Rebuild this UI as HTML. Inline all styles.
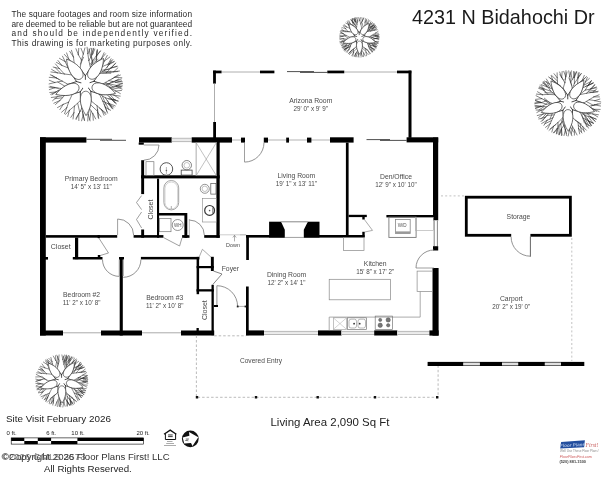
<!DOCTYPE html>
<html><head><meta charset="utf-8"><style>
html,body{margin:0;padding:0;background:#fff;}
body{width:611px;height:480px;overflow:hidden;}
svg{display:block;font-family:"Liberation Sans",sans-serif;will-change:transform;}
</style></head><body>
<svg width="611" height="480" viewBox="0 0 611 480">
<rect width="611" height="480" fill="#fff"/>
<path d="M85.50,84.20L85.36,75.71M85.36,75.71L80.10,68.26M85.36,75.71L90.54,68.04M85.50,84.20L93.90,81.29M93.90,81.29L99.23,73.60M93.90,81.29L102.73,84.04M85.50,84.20L90.89,91.31M90.89,91.31L99.34,94.04M90.89,91.31L90.99,100.84M85.50,84.20L80.29,91.84M80.29,91.84L80.47,100.48M80.29,91.84L72.33,94.23M85.50,84.20L76.55,81.54M76.55,81.54L68.10,84.37M76.55,81.54L72.00,74.91" stroke="#333" stroke-width="0.90" fill="none" stroke-linecap="round"/>
<path d="M80.10,68.26L74.27,63.66M74.27,63.66L68.86,59.26M68.86,59.26L64.38,54.42M68.86,59.26L66.62,52.94M74.27,63.66L73.41,56.94M73.41,56.94L69.63,51.26M73.41,56.94L71.47,50.29M80.10,68.26L81.46,60.10M80.47,64.19L83.52,57.28M81.46,60.10L78.38,54.75M78.38,54.75L75.97,48.72M78.38,54.75L78.75,48.39M81.46,60.10L83.31,54.02M83.31,54.02L80.98,48.32M83.31,54.02L84.92,47.93M90.54,68.04L88.84,60.55M89.98,64.30L96.25,58.36M88.84,60.55L87.85,53.68M87.85,53.68L87.08,47.24M87.85,53.68L90.18,48.28M88.84,60.55L92.67,54.01M90.60,57.22L89.04,49.05M92.67,54.01L93.14,48.34M92.67,54.01L94.84,49.10M90.54,68.04L96.26,62.72M93.16,65.21L91.26,57.28M96.26,62.72L96.53,56.08M96.54,59.43L96.97,51.01M96.53,56.08L97.47,50.12M96.53,56.08L100.28,51.25M96.26,62.72L101.39,58.65M101.39,58.65L104.09,52.74M101.39,58.65L105.48,53.82M90.54,68.04L92.35,60.99M91.47,64.53L98.01,59.42M92.35,60.99L91.20,54.92M91.20,54.92L91.59,48.35M91.20,54.92L93.85,48.25M92.35,60.99L96.34,55.92M96.34,55.92L97.30,49.53M96.34,55.92L100.50,50.76M99.23,73.60L102.06,66.71M100.87,70.31L109.13,69.31M102.06,66.71L104.21,61.23M104.21,61.23L107.30,55.39M104.21,61.23L109.84,57.00M102.06,66.71L108.01,64.18M108.01,64.18L111.10,58.75M108.01,64.18L114.25,61.39M99.23,73.60L106.26,72.81M102.66,72.97L110.77,73.31M106.26,72.81L110.63,68.05M110.63,68.05L115.45,63.65M110.63,68.05L116.89,66.22M106.26,72.81L113.88,71.63M110.02,72.07L117.87,71.54M113.88,71.63L117.89,67.83M113.88,71.63L119.51,71.02M99.23,73.60L104.45,70.37M101.82,71.95L110.94,71.25M104.45,70.37L109.20,64.53M106.91,67.54L111.21,60.35M109.20,64.53L112.88,59.47M109.20,64.53L114.04,61.79M104.45,70.37L111.20,68.00M111.20,68.00L115.63,62.98M111.20,68.00L117.18,66.41M102.73,84.04L108.95,80.51M105.92,82.51L112.93,86.68M108.95,80.51L114.72,77.29M111.88,79.02L118.26,74.76M114.72,77.29L120.40,75.04M114.72,77.29L121.83,77.78M108.95,80.51L115.69,82.33M115.69,82.33L121.62,80.82M115.69,82.33L122.34,83.61M102.73,84.04L109.34,87.57M106.11,85.56L112.79,81.27M109.34,87.57L116.27,86.62M112.81,87.20L119.80,84.99M116.27,86.62L122.37,85.86M116.27,86.62L122.11,89.08M109.34,87.57L115.67,91.00M112.55,89.16L120.79,87.55M115.67,91.00L121.50,90.47M115.67,91.00L120.35,93.59M102.73,84.04L108.88,83.72M105.81,83.90L112.04,88.43M108.88,83.72L116.10,80.68M112.53,82.37L118.76,79.04M116.10,80.68L121.36,78.99M116.10,80.68L122.35,81.85M108.88,83.72L116.29,85.46M116.29,85.46L122.37,83.64M116.29,85.46L121.73,86.84M99.34,94.04L106.68,94.37M102.93,94.48L112.35,94.31M106.68,94.37L113.82,95.14M110.22,94.89L114.88,100.04M113.82,95.14L120.18,96.14M113.82,95.14L119.06,98.32M106.68,94.37L111.71,98.97M109.26,96.58L114.75,102.81M111.71,98.97L118.23,101.04M111.71,98.97L116.25,103.13M99.34,94.04L102.82,101.21M102.82,101.21L107.97,103.57M105.35,102.46L108.88,109.78M107.97,103.57L113.90,107.07M107.97,103.57L112.39,108.88M102.82,101.21L105.29,107.27M104.17,104.17L106.84,111.39M105.29,107.27L110.59,110.29M105.29,107.27L107.59,113.10M99.34,94.04L105.43,97.82M102.37,95.96L105.65,104.19M105.43,97.82L111.90,99.64M108.62,98.84L115.58,99.79M111.90,99.64L117.89,101.06M111.90,99.64L116.17,103.87M105.43,97.82L109.09,103.43M107.36,100.53L111.92,107.75M109.09,103.43L115.27,105.92M109.09,103.43L112.96,108.78M90.99,100.84L97.06,105.79M97.06,105.79L101.70,109.87M99.30,107.90L105.87,113.12M101.70,109.87L105.86,114.60M101.70,109.87L104.05,115.33M97.06,105.79L97.83,112.72M97.58,109.22L98.17,117.50M97.83,112.72L101.12,116.98M97.83,112.72L98.72,118.70M90.99,100.84L89.58,108.60M90.57,104.71L97.39,111.18M89.58,108.60L92.74,113.53M91.06,111.11L89.70,119.77M92.74,113.53L95.70,118.95M92.74,113.53L93.32,120.26M89.58,108.60L88.16,114.42M88.16,114.42L90.11,120.87M88.16,114.42L87.72,121.00M80.47,100.48L81.84,108.03M81.84,108.03L83.13,114.97M82.36,111.51L84.49,120.15M83.13,114.97L84.45,120.54M83.13,114.97L81.58,120.81M81.84,108.03L78.81,113.90M80.43,111.00L75.92,118.37M78.81,113.90L78.85,120.59M78.81,113.90L76.06,119.59M80.47,100.48L74.43,106.11M77.72,103.48L79.61,111.73M74.43,106.11L73.88,112.80M73.88,112.80L73.01,118.99M73.88,112.80L70.81,117.38M74.43,106.11L69.41,110.30M69.41,110.30L67.72,116.49M69.41,110.30L65.51,114.44M72.33,94.23L68.63,102.16M68.63,102.16L66.76,107.71M66.76,107.71L64.53,113.65M66.76,107.71L61.60,112.24M68.63,102.16L63.16,104.41M63.16,104.41L59.88,109.61M63.16,104.41L57.50,107.58M72.33,94.23L64.67,95.34M64.67,95.34L60.06,100.43M62.28,97.78L54.96,98.69M60.06,100.43L55.53,104.46M60.06,100.43L53.87,103.24M64.67,95.34L57.16,96.75M57.16,96.75L52.61,100.66M57.16,96.75L51.30,97.51M68.10,84.37L61.79,88.52M64.84,86.16L57.76,82.03M61.79,88.52L55.90,91.96M58.79,90.12L52.04,94.72M55.90,91.96L50.70,94.32M55.90,91.96L49.78,92.54M61.79,88.52L54.72,87.73M58.26,88.24L50.13,86.35M54.72,87.73L49.32,89.63M54.72,87.73L49.12,87.13M68.10,84.37L62.14,81.09M62.14,81.09L54.83,82.50M54.83,82.50L49.09,83.94M54.83,82.50L49.28,80.25M62.14,81.09L56.50,77.98M59.28,79.65L52.03,75.36M56.50,77.98L49.26,77.36M56.50,77.98L50.26,74.74M72.00,74.91L64.30,73.99M64.30,73.99L57.29,72.79M60.82,73.28L54.99,67.41M57.29,72.79L50.91,71.95M57.29,72.79L51.60,69.40M64.30,73.99L59.34,68.53M59.34,68.53L53.19,67.05M59.34,68.53L55.44,63.95M72.00,74.91L68.08,67.90M68.08,67.90L61.80,65.39M61.80,65.39L56.43,62.34M61.80,65.39L57.94,60.48M68.08,67.90L65.18,61.61M65.18,61.61L59.46,58.35M65.18,61.61L62.49,56.19" stroke="#333" stroke-width="0.60" fill="none" stroke-linecap="round"/>
<path d="M0,0 C0,5.98 10.99,8.49 24.42,0 C10.99,-8.49 0,-5.98 0,0 Z" transform="translate(81.27 78.59) rotate(-127.0)" fill="#fff" stroke="#333" stroke-width="0.66"/>
<path d="M0,0 C0,5.98 10.99,8.49 24.42,0 C10.99,-8.49 0,-5.98 0,0 Z" transform="translate(89.53 78.44) rotate(-55.0)" fill="#fff" stroke="#333" stroke-width="0.66"/>
<path d="M0,0 C0,5.98 10.99,8.49 24.42,0 C10.99,-8.49 0,-5.98 0,0 Z" transform="translate(92.22 86.26) rotate(17.0)" fill="#fff" stroke="#333" stroke-width="0.66"/>
<path d="M0,0 C0,5.98 10.99,8.49 24.42,0 C10.99,-8.49 0,-5.98 0,0 Z" transform="translate(85.62 91.23) rotate(89.0)" fill="#fff" stroke="#333" stroke-width="0.66"/>
<path d="M0,0 C0,5.98 10.99,8.49 24.42,0 C10.99,-8.49 0,-5.98 0,0 Z" transform="translate(78.85 86.49) rotate(161.0)" fill="#fff" stroke="#333" stroke-width="0.66"/>
<circle cx="85.50" cy="84.20" r="4.44" fill="#fff"/>
<path d="M567.80,103.30L567.73,95.22M567.73,95.22L563.08,88.46M567.73,95.22L572.35,88.57M567.80,103.30L575.90,100.53M575.90,100.53L579.68,94.65M575.90,100.53L583.56,103.05M567.80,103.30L572.48,109.71M572.48,109.71L579.92,111.98M572.48,109.71L572.57,117.66M567.80,103.30L562.83,110.29M562.83,110.29L563.27,117.16M562.83,110.29L555.60,112.17M567.80,103.30L560.52,101.14M560.52,101.14L553.07,103.78M560.52,101.14L555.05,94.72" stroke="#333" stroke-width="0.90" fill="none" stroke-linecap="round"/>
<path d="M563.08,88.46L557.61,83.79M560.58,85.95L553.69,81.15M557.61,83.79L552.84,80.12M555.32,81.87L550.01,78.04M552.84,80.12L548.55,76.93M552.84,80.12L551.14,75.56M557.61,83.79L557.22,77.80M557.29,80.83L551.80,75.59M557.22,77.80L554.01,73.67M557.22,77.80L557.13,72.83M563.08,88.46L564.88,82.71M564.88,82.71L561.70,77.39M563.41,80.00L559.80,74.69M561.70,77.39L559.64,72.02M561.70,77.39L562.17,71.46M564.88,82.71L565.67,76.48M565.18,79.59L567.06,71.99M565.67,76.48L563.74,71.33M565.67,76.48L565.96,70.68M572.35,88.57L570.70,82.07M571.78,85.32L568.94,77.90M570.70,82.07L569.74,76.63M569.74,76.63L568.75,70.84M569.74,76.63L571.38,70.87M570.70,82.07L573.84,77.09M572.15,79.53L570.75,72.27M573.84,77.09L573.50,71.53M573.84,77.09L576.41,71.60M572.35,88.57L577.53,84.16M574.72,86.21L581.01,82.12M577.53,84.16L577.90,77.68M577.90,77.68L578.25,72.79M577.90,77.68L581.43,73.60M577.53,84.16L582.14,80.60M579.74,82.30L585.04,78.28M582.14,80.60L584.30,75.39M582.14,80.60L586.57,76.53M572.35,88.57L574.49,83.19M574.49,83.19L574.26,77.59M574.26,77.59L574.65,71.84M574.26,77.59L576.69,72.08M574.49,83.19L578.10,78.06M578.10,78.06L579.25,72.67M578.10,78.06L580.95,73.63M579.68,94.65L582.59,88.00M581.37,91.49L582.85,84.76M582.59,88.00L585.39,81.92M584.10,85.03L590.75,81.67M585.39,81.92L587.34,77.45M585.39,81.92L589.38,78.44M582.59,88.00L588.42,85.12M585.43,86.46L592.65,83.37M588.42,85.12L591.16,80.96M588.42,85.12L593.13,82.78M579.68,94.65L586.75,93.24M586.75,93.24L590.52,88.95M588.70,91.18L595.29,90.38M590.52,88.95L594.70,84.43M590.52,88.95L596.50,87.03M586.75,93.24L593.12,92.15M589.90,92.59L597.56,91.93M593.12,92.15L596.98,88.71M593.12,92.15L598.24,91.28M579.68,94.65L585.24,90.11M585.24,90.11L587.97,85.57M587.97,85.57L591.47,80.51M587.97,85.57L593.60,82.94M585.24,90.11L591.05,88.97M591.05,88.97L594.86,85.12M591.05,88.97L596.15,87.79M583.56,103.05L589.24,99.73M586.47,101.60L593.62,105.43M589.24,99.73L593.82,96.88M593.82,96.88L599.07,94.83M593.82,96.88L599.50,96.92M589.24,99.73L594.89,100.65M594.89,100.65L599.85,99.10M594.89,100.65L600.76,101.96M583.56,103.05L588.56,106.54M586.14,104.57L592.95,109.51M588.56,106.54L594.41,104.90M591.49,105.85L597.99,103.93M594.41,104.90L600.46,103.65M594.41,104.90L600.61,106.02M588.56,106.54L594.05,109.32M591.34,107.83L596.48,111.44M594.05,109.32L600.19,109.43M594.05,109.32L599.15,111.59M579.92,111.98L587.04,112.97M583.39,112.72L586.01,119.15M587.04,112.97L592.77,113.95M592.77,113.95L598.41,114.74M592.77,113.95L597.77,116.90M587.04,112.97L590.48,117.09M590.48,117.09L595.97,119.09M590.48,117.09L595.29,121.40M579.92,111.98L583.15,118.15M581.73,114.92L584.39,122.89M583.15,118.15L588.33,120.69M585.69,119.50L588.84,125.95M588.33,120.69L593.55,123.27M588.33,120.69L591.32,125.64M583.15,118.15L585.85,123.44M584.59,120.74L586.70,126.67M585.85,123.44L590.73,126.16M585.85,123.44L588.46,128.11M579.92,111.98L585.27,115.70M582.59,113.84L590.09,113.97M585.27,115.70L590.85,116.82M588.02,116.37L592.79,122.71M590.85,116.82L596.27,119.14M590.85,116.82L595.01,121.26M585.27,115.70L588.71,121.26M587.10,118.38L590.01,123.98M588.71,121.26L593.49,123.39M588.71,121.26L591.51,125.42M572.57,117.66L578.03,122.29M575.07,120.15L581.43,124.10M578.03,122.29L582.70,126.50M580.27,124.47L581.49,131.92M582.70,126.50L586.36,130.18M582.70,126.50L584.34,131.81M578.03,122.29L578.61,128.62M578.45,125.42L583.87,130.41M578.61,128.62L581.97,133.01M578.61,128.62L579.67,133.88M572.57,117.66L570.99,123.85M572.02,120.76L569.40,128.11M570.99,123.85L574.49,130.08M572.59,127.02L571.28,134.00M574.49,130.08L577.03,134.96M574.49,130.08L574.37,135.16M570.99,123.85L569.58,129.70M570.41,126.78L573.55,132.14M569.58,129.70L571.85,135.77M569.58,129.70L568.14,136.07M563.27,117.16L564.16,125.04M563.43,121.09L557.95,125.74M564.16,125.04L565.37,129.79M564.68,127.42L566.52,133.52M565.37,129.79L566.59,135.49M565.37,129.79L564.02,135.57M564.16,125.04L561.32,128.97M561.32,128.97L561.45,135.58M561.32,128.97L558.78,134.56M563.27,117.16L557.98,122.52M557.98,122.52L557.87,128.29M557.87,128.29L556.94,133.72M557.87,128.29L554.13,132.89M557.98,122.52L553.50,126.36M555.83,124.51L550.26,128.93M553.50,126.36L551.83,132.02M553.50,126.36L549.01,130.41M563.27,117.16L560.81,124.09M562.06,120.63L564.26,127.17M560.81,124.09L561.55,129.84M561.55,129.84L562.09,135.04M561.55,129.84L559.33,134.85M560.81,124.09L557.02,128.66M559.01,126.43L559.08,134.02M557.02,128.66L556.37,133.86M557.02,128.66L553.27,132.79M555.60,112.17L552.81,117.87M554.04,114.89L547.04,115.38M552.81,117.87L550.25,123.64M551.42,120.68L544.89,123.75M550.25,123.64L547.48,129.09M550.25,123.64L545.53,127.34M552.81,117.87L547.10,120.31M547.10,120.31L543.92,125.30M547.10,120.31L541.69,123.47M555.60,112.17L549.21,113.13M552.48,112.85L549.89,119.34M549.21,113.13L545.27,117.16M547.19,115.08L542.43,120.86M545.27,117.16L540.93,121.63M545.27,117.16L538.84,119.00M549.21,113.13L543.19,113.98M546.23,113.67L541.27,119.00M543.19,113.98L538.60,117.53M543.19,113.98L537.26,115.55M553.07,103.78L547.29,106.93M550.11,105.14L543.51,110.19M547.29,106.93L541.39,110.17M541.39,110.17L536.86,112.49M541.39,110.17L536.08,110.00M547.29,106.93L540.60,106.25M543.94,106.70L538.81,110.02M540.60,106.25L535.42,108.00M540.60,106.25L534.93,105.30M553.07,103.78L546.25,100.85M549.60,102.56L544.39,98.23M546.25,100.85L541.19,102.61M541.19,102.61L534.85,103.60M541.19,102.61L535.38,100.62M546.25,100.85L541.80,98.66M541.80,98.66L535.52,99.39M541.80,98.66L536.06,95.74M553.07,103.78L546.34,104.14M549.71,103.95L544.17,100.04M546.34,104.14L541.47,106.44M541.47,106.44L535.51,108.48M541.47,106.44L535.13,106.39M546.34,104.14L540.32,102.27M540.32,102.27L534.91,102.87M540.32,102.27L535.58,100.57M555.05,94.72L547.87,94.38M547.87,94.38L542.60,94.74M542.60,94.74L536.43,94.10M542.60,94.74L537.47,91.72M547.87,94.38L543.74,90.16M545.74,92.36L541.95,87.57M543.74,90.16L538.66,88.37M543.74,90.16L539.53,86.28M555.05,94.72L552.44,89.02M552.44,89.02L546.78,86.76M549.67,87.79L546.40,81.52M546.78,86.76L541.30,84.70M546.78,86.76L543.12,82.11M552.44,89.02L549.41,83.91M549.41,83.91L544.48,81.08M549.41,83.91L546.35,79.00M555.05,94.72L550.76,91.16M552.88,92.97L544.89,92.71M550.76,91.16L544.23,88.98M544.23,88.98L539.21,87.53M544.23,88.98L540.53,84.98M550.76,91.16L546.75,85.36M546.75,85.36L542.54,83.02M546.75,85.36L543.65,81.56" stroke="#333" stroke-width="0.60" fill="none" stroke-linecap="round"/>
<path d="M0,0 C0,5.33 9.80,7.57 21.78,0 C9.80,-7.57 0,-5.33 0,0 Z" transform="translate(564.03 98.29) rotate(-127.0)" fill="#fff" stroke="#333" stroke-width="0.66"/>
<path d="M0,0 C0,5.33 9.80,7.57 21.78,0 C9.80,-7.57 0,-5.33 0,0 Z" transform="translate(571.40 98.16) rotate(-55.0)" fill="#fff" stroke="#333" stroke-width="0.66"/>
<path d="M0,0 C0,5.33 9.80,7.57 21.78,0 C9.80,-7.57 0,-5.33 0,0 Z" transform="translate(573.80 105.13) rotate(17.0)" fill="#fff" stroke="#333" stroke-width="0.66"/>
<path d="M0,0 C0,5.33 9.80,7.57 21.78,0 C9.80,-7.57 0,-5.33 0,0 Z" transform="translate(567.91 109.57) rotate(89.0)" fill="#fff" stroke="#333" stroke-width="0.66"/>
<path d="M0,0 C0,5.33 9.80,7.57 21.78,0 C9.80,-7.57 0,-5.33 0,0 Z" transform="translate(561.87 105.34) rotate(161.0)" fill="#fff" stroke="#333" stroke-width="0.66"/>
<circle cx="567.80" cy="103.30" r="3.96" fill="#fff"/>
<path d="M61.70,380.80L61.52,374.68M61.52,374.68L57.40,369.32M61.52,374.68L65.30,368.84M61.70,380.80L67.72,378.70M67.72,378.70L71.24,373.55M67.72,378.70L73.65,380.43M61.70,380.80L65.52,385.75M65.52,385.75L71.19,387.43M65.52,385.75L65.67,392.18M61.70,380.80L57.96,386.08M57.96,386.08L57.93,392.35M57.96,386.08L52.20,387.83M61.70,380.80L55.66,378.95M55.66,378.95L49.44,381.18M55.66,378.95L52.07,374.24" stroke="#333" stroke-width="0.83" fill="none" stroke-linecap="round"/>
<path d="M57.40,369.32L53.11,366.18M55.41,367.62L56.56,362.37M53.11,366.18L49.24,363.30M51.25,364.67L47.09,362.03M49.24,363.30L45.71,359.96M49.24,363.30L47.13,359.23M53.11,366.18L51.92,361.48M52.45,363.86L48.06,360.26M51.92,361.48L48.84,358.39M51.92,361.48L50.86,357.47M57.40,369.32L58.02,363.77M57.52,366.56L59.41,360.61M58.02,363.77L55.78,360.50M56.96,362.11L57.71,356.39M55.78,360.50L53.33,356.09M55.78,360.50L55.54,355.70M58.02,363.77L58.67,359.50M58.67,359.50L56.76,355.17M58.67,359.50L59.10,354.91M65.30,368.84L63.91,364.25M63.91,364.25L62.84,359.63M63.46,361.94L66.07,356.72M62.84,359.63L61.91,354.93M62.84,359.63L64.40,354.97M63.91,364.25L65.83,360.10M64.80,362.15L63.62,356.40M65.83,360.10L65.89,355.46M65.83,360.10L68.26,355.57M65.30,368.84L69.16,365.04M67.07,366.83L65.66,360.70M69.16,365.04L69.43,360.17M69.43,360.17L69.58,356.06M69.43,360.17L71.92,357.08M69.16,365.04L72.64,362.34M70.83,363.63L74.85,360.51M72.64,362.34L74.36,358.09M72.64,362.34L76.22,359.02M65.30,368.84L67.05,364.81M66.15,366.81L64.47,360.44M67.05,364.81L66.60,360.18M66.93,362.50L70.21,358.50M66.60,360.18L66.44,355.04M66.60,360.18L68.37,355.85M67.05,364.81L70.22,360.95M68.55,362.83L68.26,357.82M70.22,360.95L71.28,356.69M70.22,360.95L73.17,357.17M71.24,373.55L73.85,368.06M72.73,370.94L74.23,364.94M73.85,368.06L74.78,364.32M74.39,366.23L76.05,361.11M74.78,364.32L76.64,359.90M74.78,364.32L78.69,361.26M73.85,368.06L78.17,366.15M75.96,367.03L80.71,365.38M78.17,366.15L80.61,362.53M78.17,366.15L81.53,364.05M71.24,373.55L76.35,372.83M73.73,373.02L76.46,367.14M76.35,372.83L79.67,368.84M79.67,368.84L82.75,365.75M79.67,368.84L84.24,367.35M76.35,372.83L81.24,372.19M78.77,372.42L84.84,371.82M81.24,372.19L85.21,369.15M81.24,372.19L85.71,371.40M71.24,373.55L75.14,370.23M75.14,370.23L77.90,366.11M76.58,368.22L81.57,366.76M77.90,366.11L80.16,362.31M77.90,366.11L81.55,364.04M75.14,370.23L79.03,368.82M77.06,369.47L82.14,368.29M79.03,368.82L82.66,365.53M79.03,368.82L84.13,367.09M73.65,380.43L78.20,377.74M78.20,377.74L82.87,375.10M82.87,375.10L86.56,372.63M82.87,375.10L87.21,375.41M78.20,377.74L83.46,378.70M80.83,378.11L85.74,379.51M83.46,378.70L87.21,377.70M83.46,378.70L87.77,379.30M73.65,380.43L78.94,382.74M76.34,381.39L82.21,378.07M78.94,382.74L82.88,381.80M82.88,381.80L87.43,381.28M82.88,381.80L87.87,383.24M78.94,382.74L82.71,384.89M80.86,383.73L85.52,382.36M82.71,384.89L87.33,385.12M82.71,384.89L86.85,387.09M73.65,380.43L79.10,379.72M76.38,380.12L80.86,376.53M79.10,379.72L83.31,377.61M81.23,378.75L86.67,375.98M83.31,377.61L87.46,375.80M83.31,377.61L87.50,378.12M79.10,379.72L83.69,381.10M83.69,381.10L87.66,380.14M83.69,381.10L87.67,381.76M71.19,387.43L77.27,388.42M74.15,388.14L76.73,393.60M77.27,388.42L82.14,388.56M79.68,388.59L83.22,392.43M82.14,388.56L86.16,388.60M82.14,388.56L85.73,390.58M77.27,388.42L80.79,391.69M79.07,389.99L85.33,390.80M80.79,391.69L84.89,392.77M80.79,391.69L83.75,394.56M71.19,387.43L74.25,393.08M74.25,393.08L78.73,394.78M76.44,394.01L79.32,399.58M78.73,394.78L82.43,396.04M78.73,394.78L81.32,397.75M74.25,393.08L75.95,396.63M75.95,396.63L79.70,399.78M75.95,396.63L77.99,400.73M71.19,387.43L75.99,390.49M75.99,390.49L80.98,391.52M80.98,391.52L84.83,392.46M80.98,391.52L83.99,394.75M75.99,390.49L78.30,394.01M77.20,392.20L82.40,393.42M78.30,394.01L82.80,395.79M78.30,394.01L81.39,397.60M65.67,392.18L69.44,395.80M67.41,394.09L72.85,397.87M69.44,395.80L73.59,399.39M71.42,397.67L75.43,400.49M73.59,399.39L76.74,401.78M73.59,399.39L74.45,403.37M69.44,395.80L70.36,400.92M69.99,398.33L70.50,404.53M70.36,400.92L73.31,404.18M70.36,400.92L70.74,404.84M65.67,392.18L64.97,397.50M64.97,397.50L67.31,401.77M66.07,399.66L69.47,404.75M67.31,401.77L69.69,405.35M67.31,401.77L66.90,405.92M64.97,397.50L63.85,402.17M63.85,402.17L65.11,406.24M63.85,402.17L62.85,407.03M65.67,392.18L67.40,396.65M67.40,396.65L70.61,400.59M68.92,398.67L72.79,402.59M70.61,400.59L72.99,404.02M70.61,400.59L71.92,405.03M67.40,396.65L67.25,401.11M67.25,401.11L69.77,405.50M67.25,401.11L67.39,406.11M57.93,392.35L59.20,397.51M58.36,394.93L60.55,400.07M59.20,397.51L60.31,402.22M59.66,399.87L61.21,404.65M60.31,402.22L60.71,406.83M60.31,402.22L59.38,406.62M59.20,397.51L56.89,402.00M58.13,399.78L59.18,405.99M56.89,402.00L57.36,406.53M56.89,402.00L55.20,405.73M57.93,392.35L54.22,395.59M56.22,394.07L50.79,398.02M54.22,395.59L53.29,400.37M53.69,397.96L53.47,403.31M53.29,400.37L52.80,405.09M53.29,400.37L50.43,404.04M54.22,395.59L50.45,398.89M52.42,397.31L51.50,403.29M50.45,398.89L49.28,403.53M50.45,398.89L47.43,402.13M52.20,387.83L49.47,393.12M49.47,393.12L47.56,397.61M48.43,395.31L46.07,401.18M47.56,397.61L45.79,401.15M47.56,397.61L44.14,399.61M49.47,393.12L45.17,395.00M47.37,394.13L44.83,399.46M45.17,395.00L42.34,398.52M45.17,395.00L41.13,396.73M52.20,387.83L46.94,388.37M46.94,388.37L42.97,391.93M42.97,391.93L40.38,395.15M42.97,391.93L38.59,392.84M46.94,388.37L41.93,389.09M44.46,388.82L41.32,392.52M41.93,389.09L38.37,392.20M41.93,389.09L37.10,389.73M49.44,381.18L45.21,384.20M47.25,382.50L42.37,386.57M45.21,384.20L41.23,386.61M43.19,385.33L38.15,388.77M41.23,386.61L36.98,388.73M41.23,386.61L36.26,386.82M45.21,384.20L40.19,383.82M42.71,384.09L37.64,382.85M40.19,383.82L36.13,385.78M40.19,383.82L35.87,383.39M49.44,381.18L44.22,378.84M46.78,380.20L41.98,376.54M44.22,378.84L40.18,380.11M42.19,379.40L36.26,381.17M40.18,380.11L35.86,381.38M40.18,380.11L35.80,379.12M44.22,378.84L40.96,376.80M40.96,376.80L35.69,376.96M40.96,376.80L36.24,374.42M52.07,374.24L46.43,373.69M46.43,373.69L41.31,373.37M43.89,373.42L40.12,369.59M41.31,373.37L36.71,372.82M41.31,373.37L37.80,371.46M46.43,373.69L42.91,370.23M44.62,372.03L41.46,368.10M42.91,370.23L38.49,369.32M42.91,370.23L39.61,367.36M52.07,374.24L49.33,369.25M49.33,369.25L44.86,367.85M44.86,367.85L40.40,366.22M44.86,367.85L42.04,363.94M49.33,369.25L47.68,365.01M47.68,365.01L43.39,362.06M47.68,365.01L45.55,360.84" stroke="#333" stroke-width="0.55" fill="none" stroke-linecap="round"/>
<path d="M0,0 C0,4.25 7.81,6.04 17.36,0 C7.81,-6.04 0,-4.25 0,0 Z" transform="translate(58.69 376.81) rotate(-127.0)" fill="#fff" stroke="#333" stroke-width="0.61"/>
<path d="M0,0 C0,4.25 7.81,6.04 17.36,0 C7.81,-6.04 0,-4.25 0,0 Z" transform="translate(64.57 376.71) rotate(-55.0)" fill="#fff" stroke="#333" stroke-width="0.61"/>
<path d="M0,0 C0,4.25 7.81,6.04 17.36,0 C7.81,-6.04 0,-4.25 0,0 Z" transform="translate(66.48 382.26) rotate(17.0)" fill="#fff" stroke="#333" stroke-width="0.61"/>
<path d="M0,0 C0,4.25 7.81,6.04 17.36,0 C7.81,-6.04 0,-4.25 0,0 Z" transform="translate(61.79 385.80) rotate(89.0)" fill="#fff" stroke="#333" stroke-width="0.61"/>
<path d="M0,0 C0,4.25 7.81,6.04 17.36,0 C7.81,-6.04 0,-4.25 0,0 Z" transform="translate(56.98 382.43) rotate(161.0)" fill="#fff" stroke="#333" stroke-width="0.61"/>
<circle cx="61.70" cy="380.80" r="3.16" fill="#fff"/>
<path d="M359.30,37.30L359.20,32.53M359.20,32.53L356.47,28.85M359.20,32.53L361.80,28.74M359.30,37.30L364.04,35.67M364.04,35.67L366.95,31.56M364.04,35.67L368.49,37.19M359.30,37.30L362.06,40.92M362.06,40.92L367.20,42.73M362.06,40.92L362.43,46.30M359.30,37.30L356.55,41.20M356.55,41.20L356.44,46.43M356.55,41.20L351.92,42.81M359.30,37.30L354.77,35.94M354.77,35.94L350.20,37.34M354.77,35.94L352.06,32.19" stroke="#333" stroke-width="0.75" fill="none" stroke-linecap="round"/>
<path d="M356.47,28.85L352.97,25.58M354.88,27.10L350.92,24.56M352.97,25.58L350.14,23.48M350.14,23.48L347.57,21.13M350.14,23.48L348.89,20.71M352.97,25.58L352.98,22.49M352.98,22.49L351.03,19.60M352.98,22.49L352.48,18.61M356.47,28.85L356.96,24.17M356.55,26.52L352.95,23.19M356.96,24.17L355.34,21.16M356.20,22.65L353.84,19.32M355.34,21.16L354.12,18.40M355.34,21.16L355.03,17.82M356.96,24.17L357.70,21.08M357.27,22.62L355.14,19.04M357.70,21.08L356.20,17.56M357.70,21.08L357.94,17.46M356.47,28.85L355.01,24.73M355.01,24.73L353.13,22.42M354.11,23.55L351.18,20.37M353.13,22.42L350.96,19.44M353.13,22.42L352.19,18.80M355.01,24.73L355.04,21.40M355.04,21.40L353.06,18.32M355.04,21.40L355.02,17.99M361.80,28.74L360.82,23.99M360.82,23.99L359.74,20.55M359.74,20.55L358.94,17.78M359.74,20.55L360.68,17.51M360.82,23.99L362.24,20.94M361.48,22.45L363.78,18.38M362.24,20.94L361.94,17.75M362.24,20.94L363.68,17.79M361.80,28.74L364.81,25.95M363.17,27.25L362.15,22.89M364.81,25.95L365.08,22.19M365.08,22.19L365.44,18.63M365.08,22.19L366.81,19.02M364.81,25.95L367.58,23.25M366.13,24.56L366.51,20.51M367.58,23.25L368.38,19.73M367.58,23.25L369.80,20.49M366.95,31.56L368.58,27.98M367.88,29.85L369.32,24.97M368.58,27.98L369.66,24.83M369.18,26.44L370.38,22.79M369.66,24.83L371.01,21.67M369.66,24.83L372.54,22.72M368.58,27.98L371.98,26.32M370.24,27.09L372.05,23.16M371.98,26.32L373.98,23.75M371.98,26.32L374.49,24.84M366.95,31.56L370.66,31.11M368.77,31.22L370.78,26.73M370.66,31.11L373.08,28.17M371.92,29.70L376.24,29.00M373.08,28.17L374.97,25.61M373.08,28.17L376.08,26.86M370.66,31.11L374.27,30.35M374.27,30.35L376.59,28.04M374.27,30.35L377.37,29.74M366.95,31.56L369.59,29.28M368.28,30.43L372.86,30.24M369.59,29.28L371.60,26.41M370.63,27.88L375.18,26.27M371.60,26.41L373.57,23.62M371.60,26.41L374.79,25.02M369.59,29.28L372.74,28.53M371.14,28.84L373.23,25.41M372.74,28.53L375.32,25.56M372.74,28.53L376.33,27.10M368.49,37.19L372.04,35.29M370.31,36.37L374.67,38.66M372.04,35.29L375.48,33.15M373.79,34.31L378.11,35.09M375.48,33.15L378.09,31.36M375.48,33.15L378.48,33.27M372.04,35.29L375.38,35.80M373.71,35.50L377.77,36.60M375.38,35.80L378.66,34.90M375.38,35.80L378.95,36.46M368.49,37.19L371.74,39.32M370.17,38.11L374.30,41.08M371.74,39.32L375.93,38.44M373.84,38.97L377.61,37.81M375.93,38.44L378.89,37.66M375.93,38.44L378.77,39.16M371.74,39.32L375.51,41.54M373.66,40.33L377.45,42.81M375.51,41.54L378.70,41.34M375.51,41.54L378.45,42.83M368.49,37.19L371.90,37.35M371.90,37.35L375.26,35.97M375.26,35.97L379.13,34.86M375.26,35.97L379.00,36.73M371.90,37.35L375.63,38.55M375.63,38.55L379.10,38.14M375.63,38.55L378.77,39.26M367.20,42.73L370.82,42.98M368.97,42.97L370.85,47.09M370.82,42.98L374.61,43.40M372.70,43.26L375.99,46.52M374.61,43.40L377.99,43.58M374.61,43.40L377.26,45.28M370.82,42.98L373.70,45.83M372.31,44.34L376.35,44.71M373.70,45.83L376.71,46.44M373.70,45.83L376.01,47.87M367.20,42.73L368.80,46.42M368.12,44.49L369.47,49.03M368.80,46.42L372.11,48.14M370.42,47.33L372.60,51.56M372.11,48.14L374.74,49.38M372.11,48.14L374.01,50.36M368.80,46.42L370.24,49.57M370.24,49.57L372.80,51.60M370.24,49.57L372.06,52.38M367.20,42.73L369.96,45.04M368.59,43.87L372.73,43.67M369.96,45.04L373.67,45.98M371.78,45.58L375.78,46.29M373.67,45.98L376.51,47.00M373.67,45.98L375.61,48.35M369.96,45.04L371.67,47.93M371.67,47.93L374.85,49.48M371.67,47.93L374.06,50.76M362.43,46.30L365.67,48.89M363.92,47.69L367.74,49.87M365.67,48.89L368.20,50.87M368.20,50.87L370.49,53.53M368.20,50.87L369.48,53.99M365.67,48.89L366.07,52.25M366.07,52.25L368.30,54.70M366.07,52.25L366.59,55.75M362.43,46.30L361.63,49.72M362.15,48.01L365.66,51.08M361.63,49.72L363.65,53.07M363.65,53.07L365.31,55.92M363.65,53.07L363.56,56.59M361.63,49.72L361.33,53.63M361.54,51.67L360.52,55.27M361.33,53.63L362.82,56.73M361.33,53.63L361.03,57.13M356.44,46.43L357.54,50.56M356.82,48.50L353.24,52.04M357.54,50.56L358.59,54.06M357.99,52.32L355.92,56.60M358.59,54.06L358.93,57.13M358.59,54.06L357.99,56.84M357.54,50.56L355.77,53.61M356.72,52.10L354.33,56.08M355.77,53.61L356.00,56.88M355.77,53.61L354.65,56.44M356.44,46.43L353.52,49.23M355.09,47.91L351.12,50.64M353.52,49.23L353.61,52.40M353.50,50.80L350.63,53.46M353.61,52.40L352.84,56.14M353.61,52.40L351.74,55.77M353.52,49.23L350.83,51.23M352.23,50.28L349.07,52.74M350.83,51.23L349.47,54.57M350.83,51.23L348.26,53.78M351.92,42.81L349.96,46.65M350.82,44.64L349.30,49.55M349.96,46.65L348.60,49.88M348.60,49.88L347.05,52.54M348.60,49.88L345.90,51.60M349.96,46.65L347.06,47.92M348.54,47.33L344.41,48.96M347.06,47.92L344.82,51.05M347.06,47.92L343.90,49.77M351.92,42.81L347.49,43.48M349.76,43.30L347.75,47.73M347.49,43.48L345.78,45.99M346.59,44.69L341.97,45.47M345.78,45.99L343.16,48.56M345.78,45.99L342.33,47.60M347.49,43.48L344.02,43.70M344.02,43.70L341.58,45.51M344.02,43.70L340.70,43.97M351.92,42.81L348.99,45.04M348.99,45.04L347.09,48.06M347.09,48.06L344.97,50.55M347.09,48.06L344.06,49.72M348.99,45.04L345.51,45.86M347.28,45.52L344.71,49.25M345.51,45.86L343.19,48.33M345.51,45.86L341.96,46.99M350.20,37.34L346.45,39.30M348.28,38.18L344.77,35.94M346.45,39.30L343.47,41.33M344.92,40.24L341.52,42.57M343.47,41.33L340.06,42.70M343.47,41.33L339.79,41.68M346.45,39.30L343.33,38.62M344.89,39.01L341.62,40.97M343.33,38.62L339.84,39.63M343.33,38.62L339.63,38.29M350.20,37.34L346.06,35.42M346.06,35.42L342.92,36.18M344.48,35.74L340.11,36.95M342.92,36.18L339.71,36.77M342.92,36.18L339.59,35.17M346.06,35.42L343.12,33.60M344.56,34.57L340.79,32.19M343.12,33.60L340.11,33.69M343.12,33.60L340.20,31.89M352.06,32.19L347.82,31.49M349.99,31.70L344.93,31.74M347.82,31.49L343.76,30.93M345.81,31.13L341.56,30.98M343.76,30.93L340.59,30.85M343.76,30.93L341.50,29.00M347.82,31.49L345.72,28.73M345.72,28.73L341.96,27.57M345.72,28.73L343.38,26.03M352.06,32.19L349.96,28.24M350.88,30.32L349.41,25.68M349.96,28.24L346.66,27.07M346.66,27.07L343.62,25.44M346.66,27.07L344.33,24.54M349.96,28.24L348.50,24.66M349.16,26.50L347.95,22.90M348.50,24.66L345.72,23.09M348.50,24.66L347.10,21.84" stroke="#333" stroke-width="0.50" fill="none" stroke-linecap="round"/>
<path d="M0,0 C0,3.23 5.94,4.59 13.20,0 C5.94,-4.59 0,-3.23 0,0 Z" transform="translate(357.01 34.27) rotate(-127.0)" fill="#fff" stroke="#333" stroke-width="0.55"/>
<path d="M0,0 C0,3.23 5.94,4.59 13.20,0 C5.94,-4.59 0,-3.23 0,0 Z" transform="translate(361.48 34.19) rotate(-55.0)" fill="#fff" stroke="#333" stroke-width="0.55"/>
<path d="M0,0 C0,3.23 5.94,4.59 13.20,0 C5.94,-4.59 0,-3.23 0,0 Z" transform="translate(362.93 38.41) rotate(17.0)" fill="#fff" stroke="#333" stroke-width="0.55"/>
<path d="M0,0 C0,3.23 5.94,4.59 13.20,0 C5.94,-4.59 0,-3.23 0,0 Z" transform="translate(359.37 41.10) rotate(89.0)" fill="#fff" stroke="#333" stroke-width="0.55"/>
<path d="M0,0 C0,3.23 5.94,4.59 13.20,0 C5.94,-4.59 0,-3.23 0,0 Z" transform="translate(355.71 38.54) rotate(161.0)" fill="#fff" stroke="#333" stroke-width="0.55"/>
<circle cx="359.30" cy="37.30" r="2.40" fill="#fff"/>
<rect x="213.10" y="70.60" width="8.50" height="2.70" fill="#000"/>
<line x1="221.60" y1="72.00" x2="260.00" y2="72.00" stroke="#999" stroke-width="0.8" />
<rect x="260.00" y="70.60" width="14.40" height="2.70" fill="#000"/>
<line x1="287.00" y1="71.60" x2="314.00" y2="71.60" stroke="#222" stroke-width="0.8" />
<line x1="300.00" y1="72.40" x2="327.30" y2="72.40" stroke="#222" stroke-width="0.8" />
<rect x="327.30" y="70.60" width="17.00" height="2.70" fill="#000"/>
<line x1="344.30" y1="72.00" x2="397.00" y2="72.00" stroke="#999" stroke-width="0.8" />
<rect x="397.00" y="70.60" width="14.30" height="2.70" fill="#000"/>
<rect x="408.50" y="70.60" width="3.00" height="67.20" fill="#000"/>
<rect x="213.10" y="70.60" width="2.80" height="13.00" fill="#000"/>
<line x1="214.50" y1="83.60" x2="214.50" y2="122.00" stroke="#999" stroke-width="0.8" />
<rect x="213.20" y="122.00" width="2.80" height="17.00" fill="#000"/>
<rect x="40.00" y="137.30" width="46.40" height="5.30" fill="#000"/>
<line x1="86.40" y1="139.30" x2="112.00" y2="139.30" stroke="#222" stroke-width="0.8" />
<line x1="100.00" y1="140.30" x2="126.00" y2="140.30" stroke="#222" stroke-width="0.8" />
<rect x="139.00" y="137.30" width="32.80" height="5.30" fill="#000"/>
<rect x="171.80" y="137.80" width="19.90" height="4.30" fill="#fff"/>
<line x1="171.80" y1="138.30" x2="191.70" y2="138.30" stroke="#999" stroke-width="0.7" />
<line x1="171.80" y1="141.60" x2="191.70" y2="141.60" stroke="#999" stroke-width="0.7" />
<line x1="171.80" y1="139.95" x2="191.70" y2="139.95" stroke="#bbb" stroke-width="0.6" />
<rect x="191.70" y="137.30" width="40.30" height="5.30" fill="#000"/>
<line x1="232.00" y1="140.00" x2="241.00" y2="140.00" stroke="#aaa" stroke-width="0.9" />
<line x1="268.00" y1="140.00" x2="330.00" y2="140.00" stroke="#aaa" stroke-width="0.9" />
<rect x="241.00" y="137.60" width="4.00" height="5.00" fill="#000"/>
<rect x="263.80" y="137.60" width="4.20" height="5.00" fill="#000"/>
<rect x="286.20" y="137.60" width="2.80" height="5.00" fill="#000"/>
<rect x="307.00" y="137.60" width="4.40" height="5.00" fill="#000"/>
<rect x="330.00" y="137.30" width="23.60" height="5.30" fill="#000"/>
<line x1="366.50" y1="139.60" x2="390.00" y2="139.60" stroke="#222" stroke-width="0.8" />
<line x1="380.00" y1="140.40" x2="406.60" y2="140.40" stroke="#222" stroke-width="0.8" />
<rect x="406.60" y="137.30" width="31.60" height="5.10" fill="#000"/>
<rect x="40.00" y="137.30" width="5.80" height="198.20" fill="#000"/>
<rect x="138.70" y="142.50" width="5.10" height="2.20" fill="#000"/>
<line x1="143.80" y1="145.00" x2="159.00" y2="145.00" stroke="#777" stroke-width="0.7" />
<path d="M159.00,145.00 A15.20,15.20 0 0 1 143.80,160.20" stroke="#777" stroke-width="0.8" fill="none"/>
<rect x="141.20" y="160.20" width="2.90" height="33.90" fill="#000"/>
<rect x="141.20" y="229.50" width="2.90" height="8.20" fill="#000"/>
<path d="M141.60,195.60 L136.50,202.50 L141.60,209.60" stroke="#777" stroke-width="0.7" fill="none"/>
<path d="M141.60,212.00 L136.50,219.50 L141.60,228.00" stroke="#777" stroke-width="0.7" fill="none"/>
<rect x="216.40" y="142.00" width="3.30" height="95.80" fill="#000"/>
<rect x="141.00" y="175.30" width="78.70" height="3.10" fill="#000"/>
<rect x="157.00" y="178.60" width="2.10" height="59.10" fill="#000"/>
<rect x="157.00" y="213.00" width="29.80" height="2.50" fill="#000"/>
<rect x="184.40" y="213.00" width="2.90" height="24.80" fill="#000"/>
<rect x="196.1" y="142.6" width="20.3" height="33.1" fill="none" stroke="#888" stroke-width="0.7"/>
<line x1="196.10" y1="142.60" x2="216.40" y2="175.70" stroke="#999" stroke-width="0.6" />
<line x1="216.40" y1="142.60" x2="196.10" y2="175.70" stroke="#999" stroke-width="0.6" />
<circle cx="166.4" cy="169" r="6.3" fill="none" stroke="#444" stroke-width="0.9"/>
<line x1="166.40" y1="167.00" x2="166.40" y2="174.00" stroke="#888" stroke-width="0.6" />
<circle cx="166.4" cy="170.5" r="0.8" fill="#666"/>
<rect x="181.2" y="170.1" width="10.9" height="5" fill="none" stroke="#444" stroke-width="0.8"/>
<circle cx="186.8" cy="165.2" r="4.7" fill="none" stroke="#666" stroke-width="0.8"/>
<circle cx="186.8" cy="165.3" r="2.8" fill="none" stroke="#888" stroke-width="0.5"/>
<rect x="146" y="161.7" width="7.9" height="14" fill="none" stroke="#777" stroke-width="0.7"/>
<rect x="163.9" y="180.5" width="14.8" height="29.4" rx="7.4" ry="7.4" fill="none" stroke="#999" stroke-width="0.9"/>
<line x1="171.30" y1="206.00" x2="171.30" y2="209.00" stroke="#777" stroke-width="0.6" />
<rect x="165" y="182" width="12.6" height="27" rx="6.3" ry="6.3" fill="none" stroke="#aaa" stroke-width="0.5"/>
<rect x="159.3" y="218.4" width="11.7" height="13.3" fill="none" stroke="#777" stroke-width="0.7"/>
<circle cx="177.7" cy="225" r="5.5" fill="none" stroke="#666" stroke-width="0.7"/>
<text x="177.70" y="226.80" font-size="4.5" fill="#555" text-anchor="middle" >WH</text>
<rect x="210.8" y="183.5" width="5.2" height="10.6" fill="none" stroke="#555" stroke-width="0.7"/>
<circle cx="204.8" cy="188.8" r="4.5" fill="none" stroke="#777" stroke-width="0.8"/>
<circle cx="204.8" cy="188.8" r="2.7" fill="none" stroke="#999" stroke-width="0.6"/>
<rect x="202.5" y="198.6" width="14" height="23.4" fill="none" stroke="#888" stroke-width="0.6"/>
<circle cx="209.6" cy="210.4" r="4.9" fill="none" stroke="#333" stroke-width="1.2"/>
<line x1="212.80" y1="207.50" x2="212.80" y2="213.50" stroke="#555" stroke-width="0.8" />
<circle cx="209.6" cy="210.6" r="0.8" fill="#555"/>
<rect x="45.80" y="235.10" width="71.40" height="2.60" fill="#000"/>
<rect x="133.60" y="235.10" width="29.80" height="2.60" fill="#000"/>
<rect x="182.10" y="235.10" width="7.40" height="2.70" fill="#000"/>
<rect x="204.20" y="235.10" width="15.50" height="2.70" fill="#000"/>
<line x1="117.60" y1="235.00" x2="117.60" y2="219.00" stroke="#777" stroke-width="0.7" />
<path d="M117.60,219.00 A16.00,16.00 0 0 1 133.60,235.00" stroke="#777" stroke-width="0.8" fill="none"/>
<line x1="189.30" y1="236.00" x2="189.30" y2="219.20" stroke="#999" stroke-width="0.7" />
<path d="M189.30,220.00 A15.00,15.00 0 0 1 204.30,235.00" stroke="#777" stroke-width="0.8" fill="none"/>
<path d="M163.40,237.50 L179.60,246.00 L182.00,237.80" stroke="#777" stroke-width="0.7" fill="none"/>
<rect x="345.90" y="142.60" width="2.70" height="94.20" fill="#000"/>
<line x1="244.50" y1="142.60" x2="244.50" y2="162.00" stroke="#777" stroke-width="0.7" />
<path d="M244.50,162.10 A19.50,19.50 0 0 0 264.00,142.60" stroke="#777" stroke-width="0.8" fill="none"/>
<rect x="433.00" y="137.50" width="5.20" height="83.00" fill="#000"/>
<rect x="433.60" y="220.50" width="4.40" height="25.70" fill="#fff"/>
<line x1="434.20" y1="220.50" x2="434.20" y2="246.20" stroke="#666" stroke-width="0.8" />
<line x1="437.40" y1="220.50" x2="437.40" y2="246.20" stroke="#666" stroke-width="0.8" />
<rect x="433.00" y="246.20" width="5.20" height="4.30" fill="#000"/>
<rect x="432.50" y="268.00" width="6.10" height="67.60" fill="#000"/>
<rect x="348.60" y="214.80" width="18.20" height="2.30" fill="#000"/>
<rect x="362.30" y="217.00" width="2.40" height="2.50" fill="#000"/>
<rect x="386.40" y="215.00" width="50.60" height="2.40" fill="#000"/>
<path d="M364.00,219.00 L372.50,230.40 L364.70,232.00" stroke="#888" stroke-width="0.7" fill="none"/>
<rect x="362.30" y="231.80" width="2.40" height="5.40" fill="#000"/>
<rect x="246.00" y="235.00" width="118.50" height="2.60" fill="#000"/>
<rect x="269.10" y="221.70" width="50.40" height="15.80" fill="#000"/>
<path d="M281.2,221.9 L307.7,221.9 L303.8,229.7 L303.8,237.6 L284.8,237.6 L284.8,229.7 Z" fill="#fff"/>
<line x1="281.20" y1="222.10" x2="307.70" y2="222.10" stroke="#999" stroke-width="0.6" />
<line x1="284.80" y1="237.30" x2="303.80" y2="237.30" stroke="#bbb" stroke-width="0.6" />
<rect x="343.4" y="237.6" width="20.6" height="12.9" fill="none" stroke="#888" stroke-width="0.7"/>
<rect x="388.9" y="217.1" width="27.2" height="20.3" fill="none" stroke="#777" stroke-width="0.9"/>
<rect x="395.4" y="219.4" width="14.8" height="14" fill="none" stroke="#888" stroke-width="0.8"/>
<rect x="395.40" y="231.40" width="14.80" height="2.00" fill="#999"/>
<text x="402.20" y="227.20" font-size="4.6" fill="#555" text-anchor="middle" >W/D</text>
<rect x="415.6" y="217.4" width="18" height="13" fill="none" stroke="#aaa" stroke-width="0.6"/>
<line x1="434.00" y1="268.00" x2="416.00" y2="268.00" stroke="#777" stroke-width="0.7" />
<path d="M416.00,268.00 A18.00,18.00 0 0 1 434.00,250.00" stroke="#777" stroke-width="0.8" fill="none"/>
<rect x="246.20" y="235.00" width="2.70" height="25.00" fill="#000"/>
<rect x="246.00" y="286.50" width="2.70" height="48.70" fill="#000"/>
<rect x="246.00" y="330.40" width="18.00" height="5.10" fill="#000"/>
<rect x="264.00" y="330.90" width="54.00" height="4.10" fill="#fff"/>
<line x1="264.00" y1="331.40" x2="318.00" y2="331.40" stroke="#999" stroke-width="0.7" />
<line x1="264.00" y1="334.50" x2="318.00" y2="334.50" stroke="#999" stroke-width="0.7" />
<line x1="264.00" y1="332.95" x2="318.00" y2="332.95" stroke="#bbb" stroke-width="0.6" />
<rect x="318.00" y="330.40" width="23.50" height="5.10" fill="#000"/>
<rect x="341.50" y="330.90" width="32.70" height="4.10" fill="#fff"/>
<line x1="341.50" y1="331.40" x2="374.20" y2="331.40" stroke="#999" stroke-width="0.7" />
<line x1="341.50" y1="334.50" x2="374.20" y2="334.50" stroke="#999" stroke-width="0.7" />
<line x1="341.50" y1="332.95" x2="374.20" y2="332.95" stroke="#bbb" stroke-width="0.6" />
<rect x="374.20" y="330.40" width="23.10" height="5.10" fill="#000"/>
<rect x="397.30" y="330.90" width="32.10" height="4.10" fill="#fff"/>
<line x1="397.30" y1="331.40" x2="429.40" y2="331.40" stroke="#999" stroke-width="0.7" />
<line x1="397.30" y1="334.50" x2="429.40" y2="334.50" stroke="#999" stroke-width="0.7" />
<line x1="397.30" y1="332.95" x2="429.40" y2="332.95" stroke="#bbb" stroke-width="0.6" />
<rect x="429.40" y="330.40" width="9.20" height="5.20" fill="#000"/>
<rect x="329.2" y="279.3" width="61.4" height="20.5" fill="none" stroke="#888" stroke-width="0.7"/>
<path d="M329.20,330.40 L329.20,317.10 L420.20,317.10 L420.20,291.60" stroke="#888" stroke-width="0.7" fill="none"/>
<rect x="417.1" y="271.1" width="15.4" height="20.5" fill="none" stroke="#888" stroke-width="0.7"/>
<rect x="333.3" y="317.8" width="13.3" height="11.6" fill="none" stroke="#999" stroke-width="0.6"/>
<line x1="333.30" y1="317.80" x2="346.60" y2="329.40" stroke="#aaa" stroke-width="0.5" />
<line x1="346.60" y1="317.80" x2="333.30" y2="329.40" stroke="#aaa" stroke-width="0.5" />
<rect x="347.6" y="317.8" width="19" height="11.6" fill="none" stroke="#777" stroke-width="0.7"/>
<rect x="349" y="319.2" width="7.5" height="8.8" rx="2" fill="none" stroke="#888" stroke-width="0.6"/>
<rect x="358" y="319.2" width="7.5" height="8.8" rx="2" fill="none" stroke="#888" stroke-width="0.6"/>
<circle cx="354.1" cy="323.7" r="0.9" fill="#333"/>
<circle cx="359.7" cy="323.7" r="0.9" fill="#333"/>
<rect x="375.2" y="316.1" width="17.4" height="13.3" fill="none" stroke="#777" stroke-width="0.7"/>
<circle cx="380.2" cy="319.9" r="1.6" fill="#777" stroke="#444" stroke-width="0.4"/>
<circle cx="388.2" cy="319.9" r="2.2" fill="#777" stroke="#444" stroke-width="0.4"/>
<circle cx="380.2" cy="325.3" r="2.2" fill="#777" stroke="#444" stroke-width="0.4"/>
<circle cx="388.2" cy="325.3" r="1.7" fill="#777" stroke="#444" stroke-width="0.4"/>
<rect x="75.00" y="237.60" width="3.20" height="21.60" fill="#000"/>
<rect x="72.80" y="257.00" width="29.70" height="2.50" fill="#000"/>
<rect x="40.00" y="257.00" width="8.00" height="2.60" fill="#000"/>
<path d="M98.50,237.50 L108.50,253.00 L100.20,255.50" stroke="#888" stroke-width="0.8" fill="none"/>
<rect x="97.60" y="235.00" width="2.20" height="3.10" fill="#000"/>
<rect x="97.80" y="255.00" width="2.50" height="2.20" fill="#000"/>
<rect x="119.70" y="257.00" width="3.10" height="78.50" fill="#000"/>
<line x1="119.30" y1="259.60" x2="119.30" y2="276.00" stroke="#888" stroke-width="0.9" />
<path d="M119.30,276.40 A16.80,16.80 0 0 1 102.50,259.60" stroke="#777" stroke-width="0.8" fill="none"/>
<line x1="123.20" y1="259.60" x2="123.20" y2="276.00" stroke="#888" stroke-width="0.9" />
<path d="M123.20,277.30 A17.70,17.70 0 0 0 140.90,259.60" stroke="#777" stroke-width="0.8" fill="none"/>
<rect x="119.00" y="257.00" width="5.00" height="2.50" fill="#000"/>
<rect x="40.00" y="330.50" width="23.00" height="5.00" fill="#000"/>
<line x1="63.00" y1="332.80" x2="101.00" y2="332.80" stroke="#aaa" stroke-width="1.0" />
<rect x="101.00" y="330.50" width="41.00" height="5.00" fill="#000"/>
<line x1="142.00" y1="332.80" x2="181.00" y2="332.80" stroke="#aaa" stroke-width="1.0" />
<rect x="181.00" y="330.50" width="33.20" height="5.00" fill="#000"/>
<rect x="140.90" y="256.90" width="58.50" height="2.50" fill="#000"/>
<rect x="196.60" y="256.90" width="2.50" height="37.30" fill="#000"/>
<rect x="196.60" y="266.00" width="17.20" height="2.20" fill="#000"/>
<rect x="196.50" y="289.20" width="17.30" height="2.30" fill="#000"/>
<rect x="210.90" y="256.80" width="2.90" height="14.20" fill="#000"/>
<rect x="211.50" y="284.80" width="2.30" height="50.40" fill="#000"/>
<rect x="196.50" y="328.00" width="2.30" height="7.00" fill="#000"/>
<path d="M199.20,257.00 L202.40,249.30 L210.90,257.00" stroke="#888" stroke-width="0.7" fill="none"/>
<path d="M213.40,271.00 L222.00,274.00 L212.80,284.50" stroke="#666" stroke-width="0.8" fill="none"/>
<line x1="216.90" y1="285.70" x2="216.90" y2="305.00" stroke="#777" stroke-width="0.8" />
<rect x="213.80" y="305.00" width="4.20" height="2.00" fill="#000"/>
<path d="M216.90,285.70 A20.70,20.70 0 0 1 237.60,306.40" stroke="#777" stroke-width="0.8" fill="none"/>
<line x1="237.60" y1="306.40" x2="245.20" y2="306.40" stroke="#777" stroke-width="0.6" />
<rect x="236.80" y="305.60" width="1.80" height="1.80" fill="#222"/>
<rect x="244.60" y="305.60" width="1.70" height="1.80" fill="#222"/>
<line x1="219.70" y1="234.80" x2="246.30" y2="234.80" stroke="#aaa" stroke-width="0.6" />
<line x1="234.50" y1="235.20" x2="234.50" y2="241.40" stroke="#777" stroke-width="0.6" />
<path d="M232.80,237.50 L234.50,235.30 L236.20,237.50" stroke="#777" stroke-width="0.6" fill="none"/>
<line x1="240.00" y1="234.80" x2="246.00" y2="234.80" stroke="#aaa" stroke-width="0.6" />
<path d="M214.2,335.8 L246,335.8 M196.4,335.5 L196.4,397.3 L438.1,397.3 L438.1,366" stroke="#aaa" stroke-width="0.8" stroke-dasharray="2.5,2" fill="none"/>
<rect x="195.80" y="396.00" width="2.40" height="2.50" fill="#111"/>
<rect x="254.80" y="396.00" width="2.40" height="2.50" fill="#111"/>
<rect x="316.50" y="396.00" width="2.40" height="2.50" fill="#111"/>
<rect x="373.80" y="396.00" width="2.40" height="2.50" fill="#111"/>
<rect x="436.00" y="396.00" width="2.40" height="2.50" fill="#111"/>
<rect x="427.60" y="361.90" width="156.70" height="4.10" fill="#000"/>
<rect x="463.20" y="362.60" width="16.70" height="2.70" fill="#fff"/>
<line x1="463.20" y1="362.90" x2="479.90" y2="362.90" stroke="#777" stroke-width="0.6" />
<line x1="463.20" y1="365.00" x2="479.90" y2="365.00" stroke="#999" stroke-width="0.6" />
<rect x="502.00" y="362.60" width="16.20" height="2.70" fill="#fff"/>
<line x1="502.00" y1="362.90" x2="518.20" y2="362.90" stroke="#777" stroke-width="0.6" />
<line x1="502.00" y1="365.00" x2="518.20" y2="365.00" stroke="#999" stroke-width="0.6" />
<rect x="544.80" y="362.60" width="16.20" height="2.70" fill="#fff"/>
<line x1="544.80" y1="362.90" x2="561.00" y2="362.90" stroke="#777" stroke-width="0.6" />
<line x1="544.80" y1="365.00" x2="561.00" y2="365.00" stroke="#999" stroke-width="0.6" />
<rect x="466.3" y="197.2" width="104.1" height="38.1" fill="none" stroke="#000" stroke-width="2.8"/>
<rect x="511.20" y="233.00" width="19.20" height="5.00" fill="#fff"/>
<line x1="530.40" y1="236.50" x2="530.40" y2="256.70" stroke="#555" stroke-width="0.9" />
<path d="M511.10,236.90 A19.30,19.30 0 0 0 530.40,256.20" stroke="#777" stroke-width="0.8" fill="none"/>
<path d="M441,195.9 L465,195.9 M571.8,238 L571.8,361" stroke="#bbb" stroke-width="0.9" stroke-dasharray="2,2.2" fill="none"/>
<text x="310.80" y="103.00" font-size="6.8" fill="#4a4a4a" text-anchor="middle" >Arizona Room</text>
<text x="310.80" y="111.00" font-size="6.8" fill="#4a4a4a" text-anchor="middle" textLength="34.55" lengthAdjust="spacingAndGlyphs">29' 0" x 9' 9"</text>
<text x="91.20" y="181.20" font-size="6.8" fill="#4a4a4a" text-anchor="middle" >Primary Bedroom</text>
<text x="91.20" y="189.20" font-size="6.8" fill="#4a4a4a" text-anchor="middle" textLength="41.09" lengthAdjust="spacingAndGlyphs">14' 5" x 13' 11"</text>
<text x="296.40" y="178.30" font-size="6.8" fill="#4a4a4a" text-anchor="middle" >Living Room</text>
<text x="296.40" y="186.30" font-size="6.8" fill="#4a4a4a" text-anchor="middle" textLength="41.09" lengthAdjust="spacingAndGlyphs">19' 1" x 13' 11"</text>
<text x="396.00" y="178.50" font-size="6.8" fill="#4a4a4a" text-anchor="middle" >Den/Office</text>
<text x="396.00" y="186.50" font-size="6.8" fill="#4a4a4a" text-anchor="middle" textLength="41.55" lengthAdjust="spacingAndGlyphs">12' 9" x 10' 10"</text>
<text x="286.60" y="277.00" font-size="6.8" fill="#4a4a4a" text-anchor="middle" >Dining Room</text>
<text x="286.60" y="285.00" font-size="6.8" fill="#4a4a4a" text-anchor="middle" textLength="38.05" lengthAdjust="spacingAndGlyphs">12' 2" x 14' 1"</text>
<text x="375.20" y="266.00" font-size="6.8" fill="#4a4a4a" text-anchor="middle" >Kitchen</text>
<text x="375.20" y="274.00" font-size="6.8" fill="#4a4a4a" text-anchor="middle" textLength="38.05" lengthAdjust="spacingAndGlyphs">15' 8" x 17' 2"</text>
<text x="81.60" y="296.70" font-size="6.8" fill="#4a4a4a" text-anchor="middle" >Bedroom #2</text>
<text x="81.60" y="304.70" font-size="6.8" fill="#4a4a4a" text-anchor="middle" textLength="37.58" lengthAdjust="spacingAndGlyphs">11' 2" x 10' 8"</text>
<text x="164.70" y="300.00" font-size="6.8" fill="#4a4a4a" text-anchor="middle" >Bedroom #3</text>
<text x="164.70" y="308.00" font-size="6.8" fill="#4a4a4a" text-anchor="middle" textLength="37.58" lengthAdjust="spacingAndGlyphs">11' 2" x 10' 8"</text>
<text x="511.30" y="300.50" font-size="6.8" fill="#4a4a4a" text-anchor="middle" >Carport</text>
<text x="511.30" y="308.50" font-size="6.8" fill="#4a4a4a" text-anchor="middle" textLength="38.05" lengthAdjust="spacingAndGlyphs">20' 2" x 19' 0"</text>
<text x="518.50" y="218.60" font-size="6.8" fill="#4a4a4a" text-anchor="middle" >Storage</text>
<text x="261.00" y="363.40" font-size="6.6" fill="#4a4a4a" text-anchor="middle" >Covered Entry</text>
<text x="60.70" y="249.20" font-size="7.0" fill="#4a4a4a" text-anchor="middle" >Closet</text>
<text x="230.40" y="271.00" font-size="6.8" fill="#4a4a4a" text-anchor="middle" >Foyer</text>
<text x="233.00" y="246.60" font-size="5.4" fill="#4a4a4a" text-anchor="middle" >Down</text>
<text x="0" y="0" font-size="7" fill="#4a4a4a" text-anchor="middle" transform="translate(152.9 209.5) rotate(-90)">Closet</text>
<text x="0" y="0" font-size="7" fill="#4a4a4a" text-anchor="middle" transform="translate(206.9 310.2) rotate(-90)">Closet</text>
<text x="412.00" y="24.20" font-size="19.8" fill="#1a1a1a" text-anchor="start" >4231 N Bidahochi Dr</text>
<text x="11.5" y="16.8" font-size="8.3" fill="#2a2a2a" textLength="180.5" lengthAdjust="spacing">The square footages and room size information</text>
<text x="11.5" y="26.6" font-size="8.3" fill="#2a2a2a" textLength="180.5" lengthAdjust="spacing">are deemed to be reliable but are not guaranteed</text>
<text x="11.5" y="36.4" font-size="8.3" fill="#2a2a2a" textLength="180.5" lengthAdjust="spacing">and should be independently verified.</text>
<text x="11.5" y="45.9" font-size="8.3" fill="#2a2a2a" textLength="180.5" lengthAdjust="spacing">This drawing is for marketing purposes only.</text>
<text x="270.50" y="426.00" font-size="11.45" fill="#222" text-anchor="start" >Living Area 2,090 Sq Ft</text>
<text x="6.00" y="421.50" font-size="9.86" fill="#222" text-anchor="start" >Site Visit February 2026</text>
<rect x="11.2" y="437.9" width="132.4" height="6.2" fill="#fff" stroke="#000" stroke-width="0.6"/>
<rect x="11.20" y="437.90" width="13.10" height="3.10" fill="#000"/>
<rect x="24.30" y="441.00" width="13.50" height="3.10" fill="#000"/>
<rect x="37.80" y="437.90" width="13.30" height="3.10" fill="#000"/>
<rect x="51.10" y="441.00" width="26.30" height="3.10" fill="#000"/>
<rect x="77.40" y="437.90" width="66.20" height="3.10" fill="#000"/>
<text x="6.60" y="435.00" font-size="6" fill="#222" text-anchor="start" >0 ft.</text>
<text x="46.20" y="435.00" font-size="6" fill="#222" text-anchor="start" >6 ft.</text>
<text x="71.30" y="435.00" font-size="6" fill="#222" text-anchor="start" >10 ft.</text>
<text x="136.40" y="435.00" font-size="6" fill="#222" text-anchor="start" >20 ft.</text>
<path d="M164.00,434.20 L170.20,430.10 L176.30,434.20" stroke="#111" stroke-width="1.3" fill="none"/>
<path d="M165.40,433.30 L165.40,439.50 L175.60,439.50 L175.60,433.30" stroke="#111" stroke-width="1.0" fill="none"/>
<rect x="168.10" y="434.50" width="4.60" height="0.90" fill="#222"/>
<rect x="168.10" y="436.20" width="4.60" height="0.90" fill="#222"/>
<rect x="167.00" y="441.10" width="5.50" height="0.70" fill="#888"/>
<rect x="166.20" y="443.20" width="7.80" height="0.70" fill="#888"/>
<rect x="164.00" y="445.00" width="12.00" height="0.70" fill="#888"/>
<circle cx="190.3" cy="438.85" r="8.4" fill="#111"/>
<path d="M182.7,437.4 L189.4,435.7 L189.0,432.0 L198.3,437.2 L192.5,445.9 L191.0,443.0 L184.2,443.6 Z" fill="#fff"/>
<text x="0" y="0" font-size="4.6" fill="#111" text-anchor="middle" transform="translate(187.1 439.6) rotate(-78)" dy="1.6">N</text>
<text x="2.00" y="460.20" font-size="9.6" fill="#333" text-anchor="start" >©Copyright 2026 Floor Plans First! LLC</text>
<text x="1.50" y="460.20" font-size="9.6" fill="#444" text-anchor="start" opacity="0.75" textLength="84" lengthAdjust="spacing">©2026 GMLS 3573</text>
<text x="44.00" y="471.70" font-size="9.7" fill="#222" text-anchor="start" >All Rights Reserved.</text>
<path d="M561.1,442 L584.9,440.3 L584.1,447.3 L560.1,448.5 Z" fill="#234e9e"/>
<text x="572.50" y="446.60" font-size="4.6" fill="#a9bde0" text-anchor="middle" font-style="italic" font-weight="bold" transform="rotate(-3 572.5 445)">Floor Plans</text>
<text x="585.50" y="446.50" font-size="5.6" fill="#c65a5a" text-anchor="start" font-style="italic" font-family="Liberation Serif">First!</text>
<text x="560.00" y="451.60" font-size="3.05" fill="#8a8a8a" text-anchor="start" >Well Use These Floor Plans!</text>
<text x="559.80" y="457.90" font-size="3.6" fill="#cc5555" text-anchor="start" font-style="italic">FloorPlansFirst.com</text>
<text x="559.40" y="463.20" font-size="3.9" fill="#444" text-anchor="start" font-weight="bold">(520) 881-1500</text>
</svg></body></html>
